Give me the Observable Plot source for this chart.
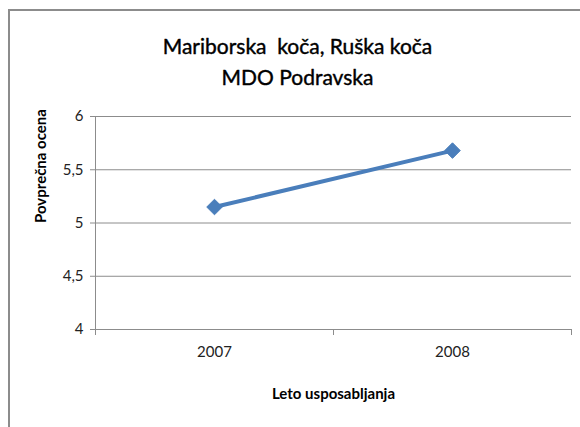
<!DOCTYPE html>
<html>
<head>
<meta charset="utf-8">
<script src="https://cdn.jsdelivr.net/npm/d3@7"></script>
<script src="https://cdn.jsdelivr.net/npm/@observablehq/plot@0.6"></script>
<style>
  html, body { margin: 0; padding: 0; background: #fff; }
  #wrap { position: relative; width: 580px; height: 427px; overflow: hidden; }
  #frame { position: absolute; left: 8px; top: 9px; width: 600px; height: 450px;
           border-left: 2px solid #8c8c8c; border-top: 2px solid #8c8c8c; box-sizing: border-box; }
  #chart { position: absolute; left: 0; top: 0; }
</style>
</head>
<body>
<div id="wrap"><div id="frame"></div><div id="chart"></div></div>
<script>
const titleLines = ["Mariborska  koča, Ruška koča", "MDO Podravska"];
const years = [2007, 2008];
const values = [5.15, 5.68];
const yTicks = [4, 4.5, 5, 5.5, 6];
const xBoundaries = [2006.5, 2007.5, 2008.5];
const yLabel = "Povprečna ocena";
const xLabel = "Leto usposabljanja";

const data = years.map((y, i) => ({year: y, value: values[i]}));
const font = "Lato, 'Open Sans', sans-serif";
const color = "#4a7ebb";
const gray = "#8c8c8c";

const chart = Plot.plot({
  width: 580,
  height: 427,
  marginLeft: 95,
  marginRight: 9,
  marginTop: 116,
  marginBottom: 98,
  style: {fontFamily: font, fontSize: "15px", color: "#000", background: "transparent"},
  x: {type: "linear", domain: [2006.5, 2008.5]},
  y: {domain: [4, 6]},
  marks: [
    Plot.gridY(yTicks, {stroke: gray, strokeOpacity: 1, strokeWidth: 1}),
    Plot.ruleX([2006.5], {stroke: gray, strokeWidth: 1}),
    Plot.axisY(yTicks, {tickSize: 5, tickPadding: 7, stroke: gray, tickFormat: d => String(d).replace(".", ","), fill: "#222", fontSize: 15, label: null}),
    Plot.axisX(xBoundaries, {tickSize: 6, tickFormat: () => "", stroke: gray, label: null}),
    Plot.axisX(years, {tickSize: 0, tickPadding: 17, tickFormat: d => String(d), fill: "#222", fontSize: 15, label: null}),
    Plot.line(data, {x: "year", y: "value", stroke: color, strokeWidth: 4}),
    Plot.dot(data, {x: "year", y: "value", symbol: "diamond2", r: 7, fill: color, stroke: color, strokeWidth: 1}),
    Plot.text([titleLines[0]], {frameAnchor: "top", dx: -36, dy: -77, fontSize: 21, fill: "#000", stroke: "#000", strokeWidth: 0.4, text: d => d}),
    Plot.text([titleLines[1]], {frameAnchor: "top", dx: -36, dy: -46, fontSize: 21, fill: "#000", stroke: "#000", strokeWidth: 0.4, text: d => d}),
    Plot.text([yLabel], {frameAnchor: "left", dx: -54, rotate: -90, fontSize: 15, fontWeight: "bold", fill: "#000", text: d => d}),
    Plot.text([xLabel], {frameAnchor: "bottom", dy: 69, fontSize: 15, fontWeight: "bold", fill: "#000", text: d => d})
  ]
});
chart.querySelectorAll("text").forEach(t => t.setAttribute("style", (t.getAttribute("style") || "") + ";white-space:pre"));
document.getElementById("chart").appendChild(chart);
</script>
</body>
</html>
